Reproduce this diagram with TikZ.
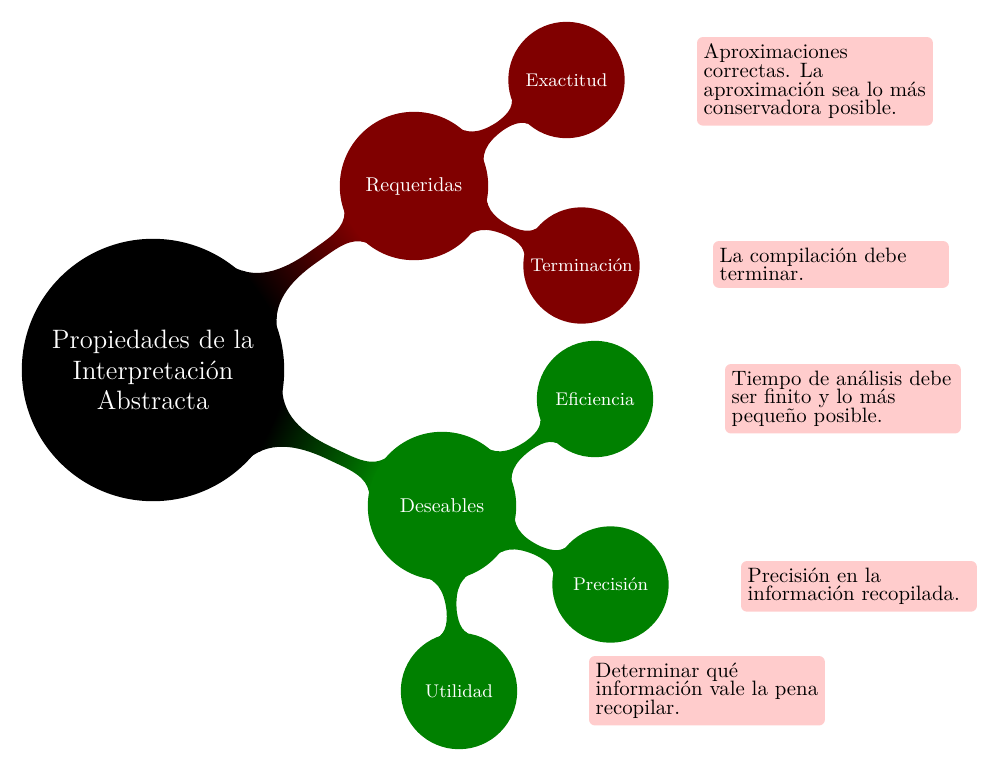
\documentclass[tikz,border=0pt]{standalone}
\usetikzlibrary{mindmap,backgrounds}
\colorlet{reqcol}{red!50!black}
\colorlet{descol}{green!50!black}
\tikzset{
  rootc/.style={concept, circle, concept color=black, fill=black, text=white,
    minimum size=130pt, text width=112pt, align=center, inner sep=0pt,
    font=\fontsize{13.3pt}{15.4pt}\selectfont},
  lvlone/.style={concept, circle, concept color=#1, fill=#1, text=white,
    minimum size=73pt, text width=60pt, align=center, inner sep=0pt,
    font=\fontsize{10pt}{12pt}\selectfont},
  lvltwo/.style={concept, circle, concept color=#1, fill=#1, text=white,
    minimum size=57pt, text width=55pt, align=center, inner sep=0pt,
    font=\fontsize{9.2pt}{11pt}\selectfont},
  note/.style={rectangle, fill=red!20, rounded corners=3pt, anchor=north west,
    minimum size=0pt, minimum width=0pt, minimum height=0pt,
    text width=111.3pt, align=flush left, inner sep=3.33pt, text=black,
    font=\fontsize{10.4pt}{9.4pt}\selectfont},
}
\begin{document}
\begin{tikzpicture}[mindmap, x=0.5pt, y=-0.5pt]
\useasboundingbox (0,0) rectangle (1000,771);
\node[rootc] (root) at (153,370) {Propiedades de la Interpretación Abstracta};
\node[lvlone=reqcol] (req) at (414,186) {Requeridas};
\node[lvlone=descol] (des) at (442,506) {Deseables};
\node[lvltwo=reqcol] (exa) at (566.5,80) {Exactitud};
\node[lvltwo=reqcol] (ter) at (581.5,265.5) {Terminación};
\node[lvltwo=descol] (efi) at (595,399) {Eficiencia};
\node[lvltwo=descol] (pre) at (610.5,584.5) {Precisión};
\node[lvltwo=descol] (uti) at (459,691) {Utilidad};
\begin{scope}[on background layer]
\path (root) to[circle connection bar switch color=from (black) to (reqcol)] (req);
\path (root) to[circle connection bar switch color=from (black) to (descol)] (des);
\path (req) to[circle connection bar switch color=from (reqcol) to (reqcol)] (exa);
\path (req) to[circle connection bar switch color=from (reqcol) to (reqcol)] (ter);
\path (des) to[circle connection bar switch color=from (descol) to (descol)] (efi);
\path (des) to[circle connection bar switch color=from (descol) to (descol)] (pre);
\path (des) to[circle connection bar switch color=from (descol) to (descol)] (uti);
\end{scope}
\node[note] (n1) at (697,37) {Aproximaciones correctas. La aproximación sea lo más conservadora posible.};
\node[note] (n2) at (713,241) {La compilación debe terminar.};
\node[note] (n3) at (725,364) {Tiempo de análisis debe ser finito y lo más pequeño posible.};
\node[note] (n4) at (741,561) {Precisión en la información recopilada.};
\node[note] (n5) at (589,656) {Determinar qué información vale la pena recopilar.};
\end{tikzpicture}
\end{document}
